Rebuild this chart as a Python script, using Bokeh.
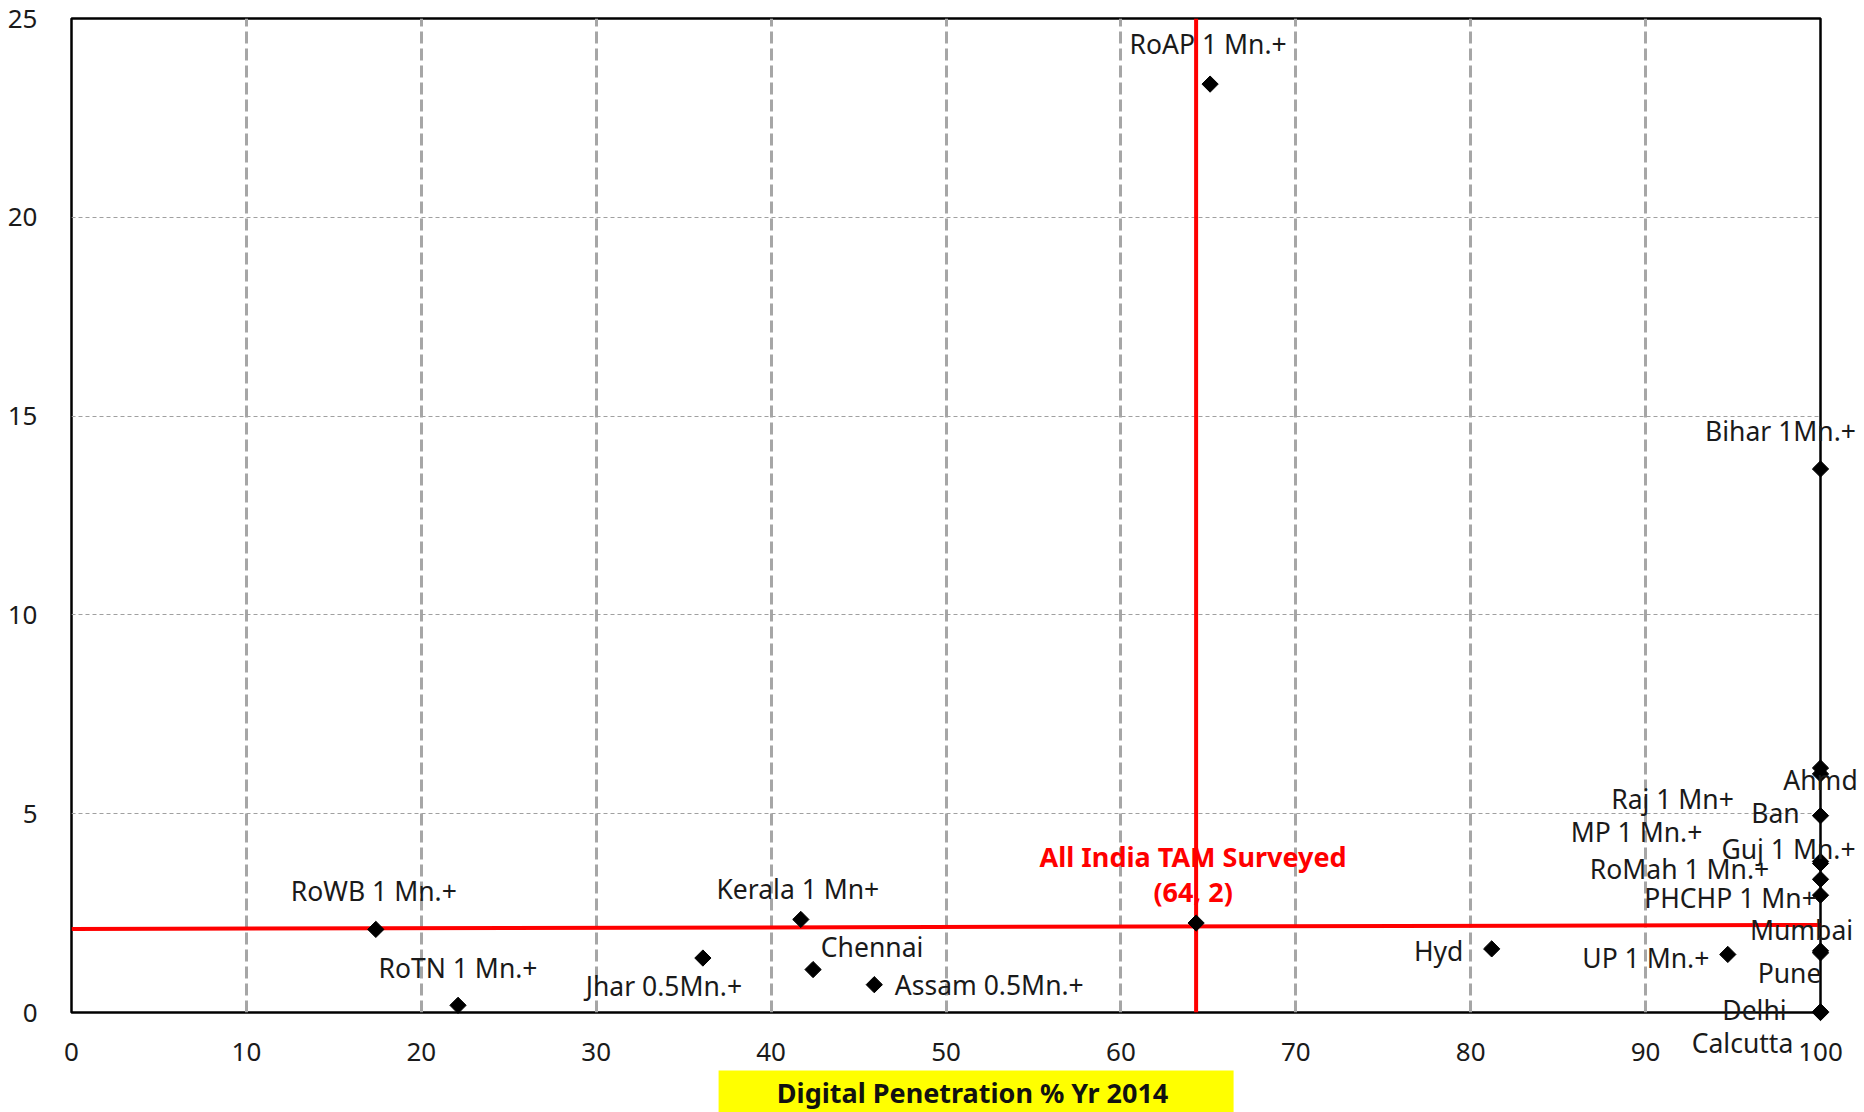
import math
from bokeh.plotting import figure
from bokeh.models import ColumnDataSource, FixedTicker
from bokeh.core.properties import value
from bokeh.embed import file_html
from bokeh.resources import INLINE

# Markets: digital penetration % (x) vs share (y)
markets = ["RoAP 1 Mn.+", "Bihar 1Mn.+", "Ahmd", "Raj 1 Mn+", "Ban", "MP 1 Mn.+",
           "Guj 1 Mn.+", "RoMah 1 Mn.+", "PHCHP 1 Mn+", "Mumbai", "Pune", "Delhi",
           "Calcutta", "UP 1 Mn.+", "Hyd", "Assam 0.5Mn.+", "Chennai", "Kerala 1 Mn+",
           "Jhar 0.5Mn.+", "RoTN 1 Mn.+", "RoWB 1 Mn.+"]
penetration = [65.1, 100, 100, 100, 100, 100,
               100, 100, 100, 100, 100, 100,
               100, 94.7, 81.2, 45.9, 42.4, 41.7,
               36.1, 22.1, 17.4]
share = [23.35, 13.67, 6.15, 6.0, 4.95, 3.8,
         3.75, 3.35, 2.95, 1.55, 1.5, 0.02,
         0.0, 1.46, 1.6, 0.7, 1.08, 2.34,
         1.37, 0.18, 2.09]

# Label offsets in pixels from each marker (centre of text)
label_dx = [-2, -40, 0, -148, -45, -184,
            -32, -141, -90, -19, -31, -66,
            -78, -82, -53, 115, 59, -3,
            -39, 0, -2]
label_dy = [-40, -38, 12, 25, -3, -29,
            -14, -10, 3, -21, 20, -2,
            30, 4, 2, 0, -23, -30,
            28, -37, -38]

# All-India reference point and its cross-hair lines
all_india_x = 64.3
all_india_y = 2.25
hline_y = [2.1, 2.2]
hline_x = [0, 100]

x_ticks = list(range(0, 101, 10))
y_ticks = list(range(0, 26, 5))

x_title = "Digital Penetration %  Yr 2014"

FONT = "Noto Sans"

p = figure(width=1864, height=1112, x_range=(0, 100), y_range=(0, 25),
           output_backend="svg", toolbar_location=None,
           min_border_left=71, min_border_right=44,
           min_border_top=18, min_border_bottom=100)
p.background_fill_color = "white"
p.border_fill_color = "white"
p.outline_line_color = "black"
p.outline_line_width = 2.5

for ax in (p.xaxis[0], p.yaxis[0]):
    ax.axis_line_color = None
    ax.major_tick_line_color = None
    ax.minor_tick_line_color = None
    ax.major_label_text_font = FONT
    ax.major_label_text_font_size = "26px"
    ax.major_label_text_color = "#1a1a1a"
p.xaxis.ticker = FixedTicker(ticks=x_ticks)
p.yaxis.ticker = FixedTicker(ticks=y_ticks)
p.xaxis.major_label_standoff = 24
p.yaxis.major_label_standoff = 28

p.xgrid.ticker = FixedTicker(ticks=x_ticks)
p.ygrid.ticker = FixedTicker(ticks=y_ticks)
p.xgrid.grid_line_color = "#a6a6a6"
p.xgrid.grid_line_width = 3
p.xgrid.grid_line_dash = "12 5"
p.ygrid.grid_line_color = "#a0a0a0"
p.ygrid.grid_line_width = 1.2
p.ygrid.grid_line_dash = "4 3"

# Red cross-hair through the All-India point
p.line(x=hline_x, y=hline_y, line_color="#ff0000", line_width=4)
p.segment(x0=[all_india_x], y0=[0], x1=[all_india_x], y1=[25],
          line_color="#ff0000", line_width=4)

src = ColumnDataSource(dict(x=penetration, y=share, name=markets,
                            dx=label_dx, dy=label_dy))
p.scatter(x="x", y="y", source=src, marker="square", angle=math.pi / 4,
          size=11.5, fill_color="black", line_color="black", level="overlay")
p.scatter(x=[all_india_x], y=[all_india_y], marker="square", angle=math.pi / 4,
          size=11.5, fill_color="black", line_color="black")
p.text(x="x", y="y", text="name", source=src, x_offset="dx", y_offset="dy",
       text_align="center", text_baseline="middle",
       text_font=value(FONT), text_font_size="26.5px", text_color="#1a1a1a",
       level="overlay")

p.text(x=[all_india_x, all_india_x], y=[all_india_y, all_india_y],
       text=["All India TAM Surveyed", "(64, 2)"],
       x_offset=[-3, -3], y_offset=[-67, -32],
       text_align="center", text_baseline="middle",
       text_font=value(FONT), text_font_size="27px", text_font_style="bold",
       text_color="#ff0000")

# Axis title in a yellow box under the x axis (placed below the frame)
title_pos_x, title_pos_y = 51.72, -2.11
p.rect(x=[title_pos_x], y=[title_pos_y], width=515, height=52,
       width_units="screen", height_units="screen",
       fill_color="#ffff00", line_color=None, level="overlay")
p.text(x=[title_pos_x], y=[title_pos_y], text=[x_title], y_offset=-4,
       text_align="center", text_baseline="middle",
       text_font=value(FONT), text_font_size="27px", text_font_style="bold",
       text_color="#111111", level="overlay")

open("out.html", "w").write(file_html(p, INLINE))
